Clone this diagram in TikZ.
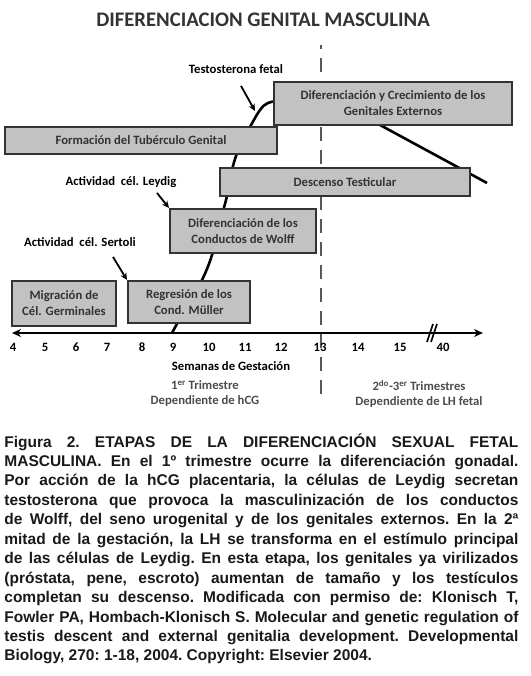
\documentclass[tikz,border=0pt]{standalone}
\usepackage{fontspec}
\setmainfont{Carlito}
\newfontfamily\capfont{Liberation Sans}
\usetikzlibrary{arrows.meta}

\begin{document}
\begin{tikzpicture}[x=1pt, y=-1pt, thick,
  caja/.style={draw=black!80, line width=2pt, fill=black!24, text=black!80,
    font=\bfseries\fontsize{12.7}{16}\selectfont, align=center, inner sep=0pt},
  rotulo/.style={font=\bfseries\fontsize{12.7}{15}\selectfont, inner sep=0pt},
  flecha/.style={line width=1.8pt, -{Stealth[length=7pt, width=6.5pt]}},
  semana/.style={font=\bfseries\fontsize{12.7}{14}\selectfont, inner sep=0pt}]
  \useasboundingbox (0,0) rectangle (530,676);

  \node[font=\bfseries\fontsize{20.7}{22}\selectfont, text=black!80] (titulo) at (263,20)
    {DIFERENCIACION GENITAL MASCULINA};

  % linea de la semana 13
  \coordinate (S1) at (321,45);
  \coordinate (S2) at (321,402);
  \draw[black!65, line width=2.6pt, dash pattern=on 14pt off 9pt, dash phase=10pt] (S1) -- (S2);

  % curva de testosterona (queda detras de las cajas)
  \coordinate (fin) at (487,183);
  \draw[line width=2.6pt, line join=round]
    plot[smooth, tension=0.6] coordinates {(172,333) (190,300) (202,280) (212,255)
      (220,222) (227,196) (233,166) (240,146) (250,127) (260,110) (268,103) (282,100)}
    -- (380,125) -- (fin);

  % cajas
  \node[caja, minimum width=238pt, minimum height=43pt] (G) at (393,103.5)
    {Diferenciación y Crecimiento de los\\Genitales Externos};
  \node[caja, minimum width=272pt, minimum height=27pt] (T) at (141,140.5)
    {Formación del Tubérculo Genital};
  \node[caja, minimum width=250pt, minimum height=28pt] (D) at (345,182)
    {Descenso Testicular};
  \node[caja, minimum width=146pt, minimum height=44pt] (W) at (243,231)
    {Diferenciación de los\\Conductos de Wolff};
  \node[caja, minimum width=104pt, minimum height=45pt] (C) at (64,303.5)
    {Migración de\\Cél. Germinales};
  \node[caja, minimum width=122pt, minimum height=42pt] (M) at (189,302)
    {Regresión de los\\Cond. Müller};

  % rotulos y flechas
  \node[rotulo] (testo) at (236,69) {Testosterona fetal};
  \coordinate (t1) at (255,111);
  \draw[flecha] ([xshift=5pt, yshift=-12pt]testo.south) -- (t1);
  \node[rotulo] (leydig) at (121,182) {Actividad\ \ cél. Leydig};
  \draw[flecha] ([xshift=36pt, yshift=-5pt]leydig.south) -- (W.north west);
  \node[rotulo] (sertoli) at (80,242) {Actividad\ \ cél. Sertoli};
  \draw[flecha] ([xshift=33pt, yshift=-10pt]sertoli.south) -- (M.north west);

  % eje de semanas
  \coordinate (ejeA) at (12,333);
  \coordinate (ejeB) at (483,333);
  \draw[line width=2.4pt, {Stealth[length=9pt, width=8pt]}-{Stealth[length=9pt, width=8pt]}]
    (ejeA) -- (ejeB);
  \draw[line width=1.6pt] (427,342) -- (433,324) (431,342) -- (437,324);
  \foreach \x/\n in {13/4, 45/5, 76/6, 107/7, 142/8, 173/9, 209/10, 245/11, 281/12,
                     320/13, 358/14, 400/15, 443/40}
    \node[semana] (n\n) at (\x,347) {\n};
  \node[rotulo] (semanas) at (231,366) {Semanas de Gestación};

  % trimestres
  \node[rotulo, text=black!70, align=center] (tri1) at (205,394)
    {1\textsuperscript{er} Trimestre\\Dependiente de hCG};
  \node[rotulo, text=black!70, align=center] (tri2) at (419,394)
    {2\textsuperscript{do}-3\textsuperscript{er} Trimestres\\Dependiente de LH fetal};

  % pie de figura
  \node[font=\capfont\bfseries\fontsize{15.5}{19.45}\selectfont\frenchspacing, text=black!90,
        text width=514pt, align=justify, inner sep=0pt, anchor=base west] (pie) at (4,447)
    {Figura 2. ETAPAS DE LA DIFERENCIACIÓN SEXUAL FETAL\linebreak
     MASCULINA. En el 1º trimestre ocurre la diferenciación gonadal.\linebreak
     Por acción de la hCG placentaria, la células de Leydig secretan\linebreak
     testosterona que provoca la masculinización de los conductos\linebreak
     de Wolff, del seno urogenital y de los genitales externos. En la 2ª\linebreak
     mitad de la gestación, la LH se transforma en el estímulo principal\linebreak
     de las células de Leydig. En esta etapa, los genitales ya virilizados\linebreak
     (próstata, pene, escroto) aumentan de tamaño y los testículos\linebreak
     completan su descenso. Modificada con permiso de: Klonisch T,\linebreak
     Fowler PA, Hombach-Klonisch S. Molecular and genetic regulation of\linebreak
     testis descent and external genitalia development. Developmental\linebreak
     Biology, 270: 1-18, 2004. Copyright: Elsevier 2004.};
\end{tikzpicture}
\end{document}
